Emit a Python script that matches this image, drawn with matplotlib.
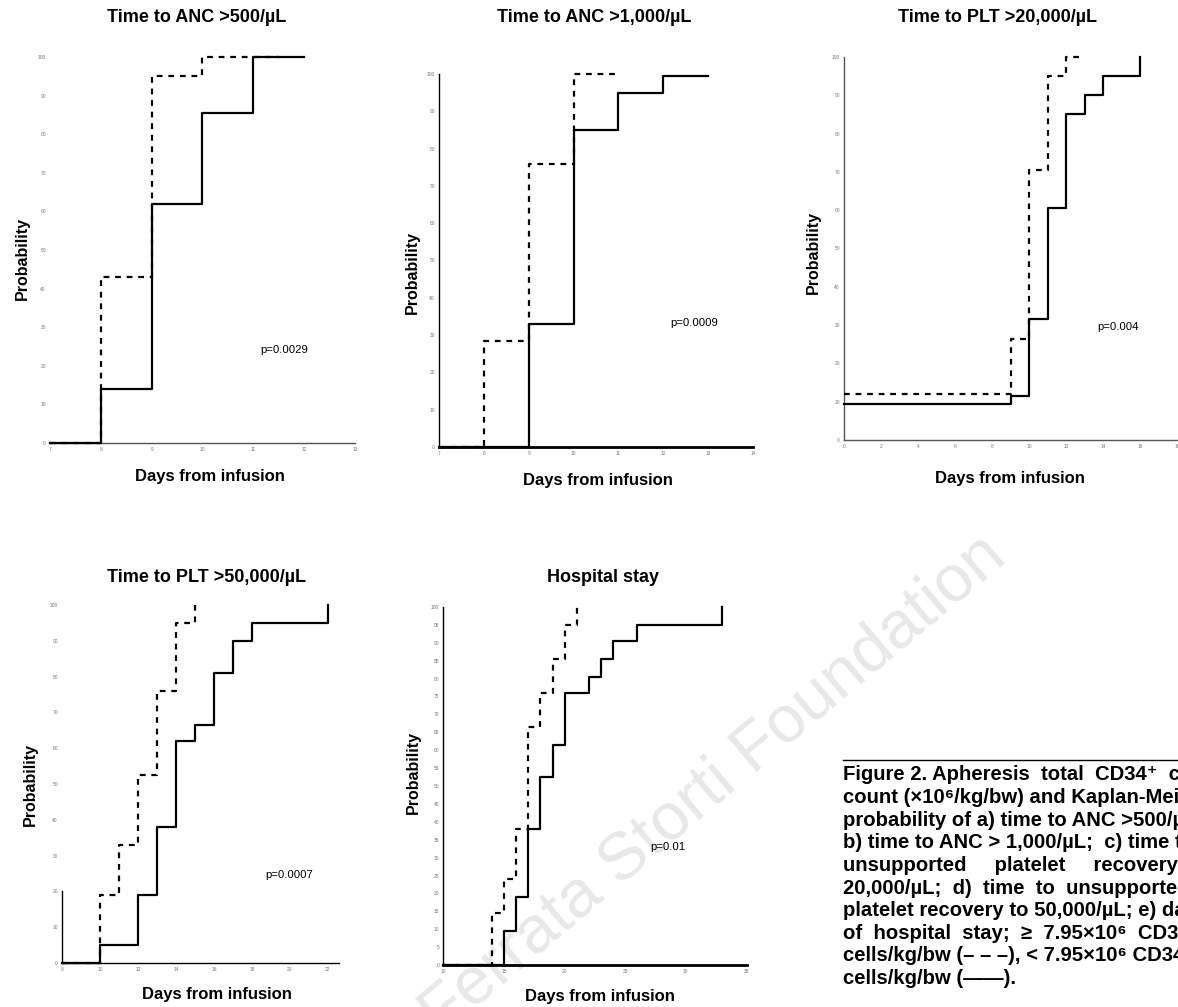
import matplotlib
matplotlib.use("Agg")
import matplotlib.pyplot as plt

W, H, DPI = 1178, 1007, 100
plt.rcParams['font.family'] = ['Liberation Sans', 'DejaVu Sans']

# ---------------- data ----------------
# a) time to ANC > 500/µL
anc500_days_hi = [7, 8, 9, 10, 11.5]
anc500_prob_hi = [0, 43, 95, 100, 100]
anc500_days_lo = [7, 8, 9, 10, 11, 12]
anc500_prob_lo = [0, 14, 62, 85.5, 100, 100]
anc500_xticks = [7, 8, 9, 10, 11, 12, 13]

# b) time to ANC > 1,000/µL
anc1000_days_hi = [7, 8, 9, 10, 11]
anc1000_prob_hi = [0, 28.5, 76, 100, 100]
anc1000_days_lo = [7, 9, 10, 11, 12, 13]
anc1000_prob_lo = [0, 33, 85, 95, 99.5, 99.5]
anc1000_xticks = [7, 8, 9, 10, 11, 12, 13, 14]

# c) time to PLT > 20,000/µL
plt20_days_hi = [0, 9, 10, 11, 12, 12.9]
plt20_prob_hi = [12, 26.5, 70.5, 95, 100, 100]
plt20_days_lo = [0, 9, 10, 11, 12, 13, 14, 16]
plt20_prob_lo = [9.3, 11.5, 31.5, 60.5, 85, 90, 95, 100]
plt20_xticks = [0, 2, 4, 6, 8, 10, 12, 14, 16, 18]

# d) time to PLT > 50,000/µL
plt50_days_hi = [8, 10, 11, 12, 13, 14, 15]
plt50_prob_hi = [0, 19, 33, 52.5, 76, 95, 100]
plt50_days_lo = [8, 10, 12, 13, 14, 15, 16, 17, 18, 22]
plt50_prob_lo = [0, 5, 19, 38, 62, 66.5, 81, 90, 95, 100]
plt50_xticks = [8, 10, 12, 14, 16, 18, 20, 22]

# e) hospital stay
stay_days_hi = [10, 14, 15, 16, 17, 18, 19, 20, 21]
stay_prob_hi = [0, 14.5, 24, 38, 66.5, 76, 85.5, 95, 100]
stay_days_lo = [10, 15, 16, 17, 18, 19, 20, 22, 23, 24, 26, 33]
stay_prob_lo = [0, 9.5, 19, 38, 52.5, 61.5, 76, 80.5, 85.5, 90.5, 95, 100]
stay_xticks = [10, 15, 20, 25, 30, 35]

yticks_10 = list(range(0, 101, 10))
yticks_5 = list(range(0, 101, 5))

p_values = ["p=0.0029", "p=0.0009", "p=0.004", "p=0.0007", "p=0.01"]
titles = ["Time to ANC >500/\u00b5L", "Time to ANC >1,000/\u00b5L",
          "Time to PLT >20,000/\u00b5L", "Time to PLT >50,000/\u00b5L",
          "Hospital stay"]

fig = plt.figure(figsize=(W / DPI, H / DPI), dpi=DPI)


def fx(px):
    return px / W


def fy(py):
    return 1 - py / H


def add_axes_px(x0, x1, y_top, y_bot):
    ax = fig.add_axes([fx(x0), fy(y_bot), (x1 - x0) / W, (y_bot - y_top) / H])
    ax.set_facecolor('none')
    return ax


def km_panel(ax, xlim, xticks, yticks, days_hi, prob_hi, days_lo, prob_lo):
    ax.set_xlim(*xlim)
    ax.set_ylim(0, 100)
    ax.set_xticks(xticks)
    ax.set_yticks(yticks)
    ax.tick_params(length=0, labelsize=3.5, labelcolor='#777777', pad=3)
    for s in ('top', 'right'):
        ax.spines[s].set_visible(False)
    ax.step(days_lo, prob_lo, where='post', color='black', lw=1.6,
            clip_on=False, zorder=3)
    ax.step(days_hi, prob_hi, where='post', color='black', lw=1.6,
            linestyle=(0, (2.6, 2.6)), clip_on=False, zorder=4)


# a
ax = add_axes_px(50, 355, 57, 443)
km_panel(ax, (7, 13), anc500_xticks, yticks_10,
         anc500_days_hi, anc500_prob_hi, anc500_days_lo, anc500_prob_lo)
ax.spines['left'].set_visible(False)
ax.spines['bottom'].set_color('#555555')
ax.spines['bottom'].set_linewidth(1.0)

# b
ax = add_axes_px(439, 753, 74, 447)
km_panel(ax, (7, 14), anc1000_xticks, yticks_10,
         anc1000_days_hi, anc1000_prob_hi, anc1000_days_lo, anc1000_prob_lo)
ax.spines['left'].set_linewidth(1.0)
ax.spines['bottom'].set_linewidth(2.0)

# c
ax = add_axes_px(844, 1177, 57, 440)
km_panel(ax, (0, 18), plt20_xticks, yticks_10,
         plt20_days_hi, plt20_prob_hi, plt20_days_lo, plt20_prob_lo)
for s in ('left', 'bottom'):
    ax.spines[s].set_color('#555555')
    ax.spines[s].set_linewidth(1.0)

# d
ax = add_axes_px(62, 339.4, 605, 963)
km_panel(ax, (8, 22.6), plt50_xticks, yticks_10,
         plt50_days_hi, plt50_prob_hi, plt50_days_lo, plt50_prob_lo)
ax.spines['left'].set_bounds(0, 20)
ax.spines['left'].set_linewidth(1.0)
ax.spines['bottom'].set_linewidth(1.0)

# e
ax = add_axes_px(443.4, 746.6, 607, 965)
km_panel(ax, (10, 35), stay_xticks, yticks_5,
         stay_days_hi, stay_prob_hi, stay_days_lo, stay_prob_lo)
ax.spines['left'].set_linewidth(1.0)
ax.spines['bottom'].set_linewidth(2.0)

# titles, axis labels and p-values, placed in pixel coordinates
title_pos = [(197, 18), (594, 18), (998, 18), (206, 578), (603, 578)]
ylab_pos = [(22, 258), (412, 273), (813, 253), (30, 785), (413, 773)]
xlab_pos = [(210, 477), (598, 481), (1010, 479), (217, 995), (600, 997)]
p_pos = [(260, 350), (670, 323), (1097, 327), (265, 875), (650, 847)]

for i in range(5):
    fig.text(fx(title_pos[i][0]), fy(title_pos[i][1]), titles[i],
             ha='center', va='center', fontsize=13, fontweight='bold')
    fig.text(fx(ylab_pos[i][0]), fy(ylab_pos[i][1]), "Probability",
             ha='center', va='center', rotation=90, fontsize=11.5,
             fontweight='bold')
    fig.text(fx(xlab_pos[i][0]), fy(xlab_pos[i][1]), "Days from infusion",
             ha='center', va='center', fontsize=12, fontweight='bold')
    fig.text(fx(p_pos[i][0]), fy(p_pos[i][1]), p_values[i],
             ha='left', va='center', fontsize=8.2)

# caption (justified block, running past the right edge)
caption_lines = [
    "Figure 2. Apheresis  total  CD34\u207a  cell",
    "count (\u00d710\u2076/kg/bw) and Kaplan-Meier",
    "probability of a) time to ANC >500/\u00b5L;",
    "b) time to ANC > 1,000/\u00b5L;  c) time to",
    "unsupported     platelet     recovery     to",
    "20,000/\u00b5L;  d)  time  to  unsupported",
    "platelet recovery to 50,000/\u00b5L; e) days",
    "of  hospital  stay;  \u2265  7.95\u00d710\u2076  CD34\u207a",
    "cells/kg/bw (\u2013 \u2013 \u2013), < 7.95\u00d710\u2076 CD34\u207a",
    "cells/kg/bw (\u2014\u2014).",
]
cap_x, cap_y0, cap_dy = 843, 775, 22.6
for k, line in enumerate(caption_lines):
    fig.text(fx(cap_x), fy(cap_y0 + k * cap_dy), line, ha='left',
             va='center', fontsize=14.6, fontweight='bold')
fig.add_artist(plt.Line2D([fx(843), fx(1178)], [fy(760), fy(760)],
                          color='black', lw=1.0))

# watermark
fig.text(fx(1008), fy(560), "Ferrata Storti Foundation", rotation=40,
         rotation_mode='anchor', ha='right', va='baseline', fontsize=48,
         color='#e8e8e8', zorder=-5)

fig.savefig("out.png", dpi=DPI)
